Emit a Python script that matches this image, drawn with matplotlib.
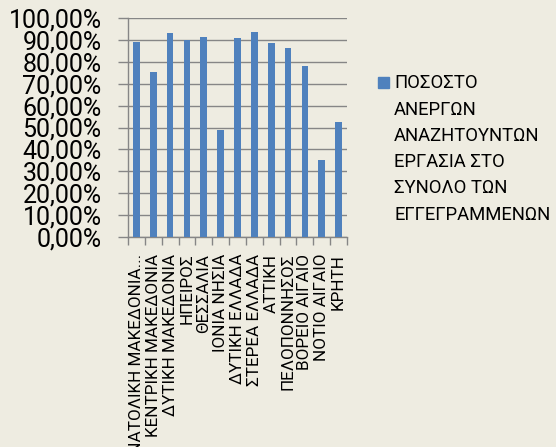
import matplotlib
matplotlib.use("Agg")
import matplotlib.pyplot as plt
from matplotlib.patches import Rectangle
from matplotlib.ticker import FuncFormatter, MultipleLocator
import numpy as np

plt.rcParams['font.family'] = ['Roboto', 'DejaVu Sans']

# data
regions = ["ΑΝΑΤΟΛΙΚΗ ΜΑΚΕΔΟΝΙΑ...", "ΚΕΝΤΡΙΚΗ ΜΑΚΕΔΟΝΙΑ", "ΔΥΤΙΚΗ ΜΑΚΕΔΟΝΙΑ",
           "ΗΠΕΙΡΟΣ", "ΘΕΣΣΑΛΙΑ", "ΙΟΝΙΑ ΝΗΣΙΑ", "ΔΥΤΙΚΗ ΕΛΛΑΔΑ",
           "ΣΤΕΡΕΑ ΕΛΛΑΔΑ", "ΑΤΤΙΚΗ", "ΠΕΛΟΠΟΝΝΗΣΟΣ", "ΒΟΡΕΙΟ ΑΙΓΑΙΟ",
           "ΝΟΤΙΟ ΑΙΓΑΙΟ", "ΚΡΗΤΗ"]
share = [88.9, 75.3, 93.1, 89.8, 91.3, 49.0, 91.0, 93.6, 88.5, 86.4, 78.2, 35.3, 52.6]
legend_lines = ["ΠΟΣΟΣΤΟ", "ΑΝΕΡΓΩΝ", "ΑΝΑΖΗΤΟΥΝΤΩΝ", "ΕΡΓΑΣΙΑ ΣΤΟ",
                "ΣΥΝΟΛΟ ΤΩΝ", "ΕΓΓΕΓΡΑΜΜΕΝΩΝ"]

bg = "#EEECE1"
bar_color = "#4F81BD"
grid_color = "#868686"
W, H = 556, 447

fig = plt.figure(figsize=(W / 100, H / 100), dpi=100, facecolor=bg)
ax = fig.add_axes([128 / W, 1 - 237 / H, 219 / W, 219 / H], facecolor=bg)

x = np.arange(len(regions))
ax.bar(x, share, width=0.4, color=bar_color, zorder=3)

ax.set_xlim(-0.5, len(regions) - 0.5)
ax.set_ylim(0, 100)
ax.yaxis.set_major_locator(MultipleLocator(10))
ax.yaxis.set_major_formatter(FuncFormatter(lambda v, p: f"{v:.2f}%".replace(".", ",")))
ax.grid(axis="y", color=grid_color, linewidth=1.0, zorder=0)

for side in ["top", "right"]:
    ax.spines[side].set_visible(False)
for side in ["left", "bottom"]:
    ax.spines[side].set_color(grid_color)
    ax.spines[side].set_linewidth(1.0)

ax.tick_params(axis="y", length=7, width=1.0, color=grid_color, pad=12,
               labelsize=18, labelcolor="black")
ax.set_xticks(x)
ax.set_xticklabels(regions, rotation=90, fontsize=12.3)
ax.set_xticks(np.arange(-0.5, len(regions), 1), minor=True)
ax.tick_params(axis="x", which="major", length=0, pad=12)
ax.tick_params(axis="x", which="minor", length=6, width=1.0, color=grid_color)

# legend: square key beside a wrapped label
fig.patches.append(Rectangle((378 / W, 1 - 88 / H), 11 / W, 11 / H,
                             transform=fig.transFigure, color=bar_color))
for i, line in enumerate(legend_lines):
    fig.text(394 / W, 1 - (88.5 + i * 26.2) / H, line, fontsize=13.3,
             va="baseline", ha="left")

fig.savefig("out.png", dpi=100, facecolor=bg)
